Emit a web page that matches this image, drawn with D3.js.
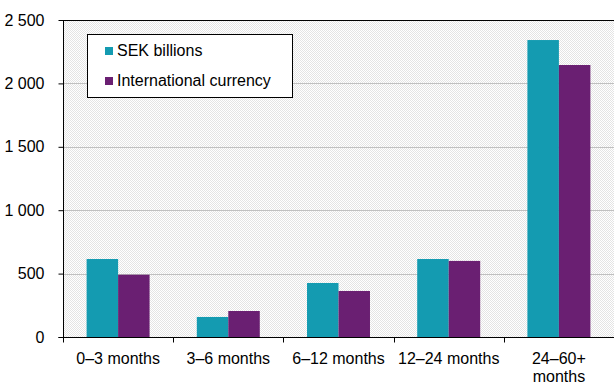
<!DOCTYPE html>
<html><head><meta charset="utf-8">
<script src="https://cdn.jsdelivr.net/npm/d3@7"></script>
<style>body{margin:0;background:#fff}svg{display:block}text{font-family:Arial,"Liberation Sans",sans-serif;fill:#000}</style>
</head><body><svg id="c" width="614" height="391"></svg>
<script>
const categories = ["0–3 months","3–6 months","6–12 months","12–24 months","24–60+ months"];
const seriesNames = ["SEK billions","International currency"];
const sekValues = [615, 158, 426, 615, 2342];
const intlValues = [491, 205, 363, 600, 2145];
const yTicks = [0,500,1000,1500,2000,2500];
const colors = ["#149bb1","#6a1f72"];

const svg = d3.select("#c");
const m = {l:63, r:614, t:20, b:337};
const defs = svg.append("defs");
const pat = defs.append("pattern").attr("id","chk").attr("width",2).attr("height",2).attr("patternUnits","userSpaceOnUse");
pat.append("rect").attr("width",2).attr("height",2).attr("fill","#ffffff");
pat.append("rect").attr("width",1).attr("height",1).attr("fill","#e4e4e4");
pat.append("rect").attr("x",1).attr("y",1).attr("width",1).attr("height",1).attr("fill","#e4e4e4");

const x0 = d3.scaleBand().domain(categories).range([m.l,m.r]).padding(0);
const x1 = d3.scaleBand().domain(seriesNames).range([0,x0.bandwidth()]).paddingInner(0).paddingOuter(0.75);
const y = d3.scaleLinear().domain([0,2500]).range([m.b,m.t]);

svg.append("rect").attr("x",m.l).attr("y",m.t).attr("width",m.r-m.l).attr("height",m.b-m.t).attr("fill","url(#chk)");

// grid
svg.append("g").selectAll("line").data(yTicks.filter(d=>d>0&&d<2500)).join("line")
  .attr("x1",m.l).attr("x2",m.r).attr("y1",d=>Math.round(y(d))+0.5).attr("y2",d=>Math.round(y(d))+0.5)
  .attr("stroke","#c0c0c0").attr("stroke-width",1);
svg.append("line").attr("x1",m.l).attr("x2",m.r).attr("y1",m.t+0.5).attr("y2",m.t+0.5).attr("stroke","#000");

const data = categories.map((c,i)=>({c, vals:[sekValues[i], intlValues[i]]}));
const g = svg.append("g").selectAll("g").data(data).join("g").attr("transform",d=>`translate(${x0(d.c)},0)`);
g.selectAll("rect").data(d=>d.vals.map((v,j)=>({s:seriesNames[j],v,j}))).join("rect")
  .attr("x",d=>x1(d.s)).attr("width",x1.bandwidth())
  .attr("y",d=>y(d.v)).attr("height",d=>y(0)-y(d.v)).attr("fill",d=>colors[d.j]);

// y axis
const ya = svg.append("g").attr("transform",`translate(${m.l+0.5},0)`)
  .call(d3.axisLeft(y).tickValues(yTicks).tickSize(5).tickPadding(14).tickFormat(d=>d3.format(",")(d).replace(/,/g," ")));
ya.select(".domain").attr("d",`M-5,${m.b+0.5}H0V${m.t}`);
ya.selectAll("text").attr("font-size","16px").attr("font-family","Arial, 'Liberation Sans', sans-serif");
ya.selectAll(".tick line").attr("stroke","#000");

// x axis
const xa = svg.append("g").attr("transform",`translate(0,${m.b+0.5})`);
xa.append("line").attr("x1",m.l).attr("x2",m.r).attr("stroke","#000");
xa.selectAll("line.t").data(categories.map(c=>x0(c)).concat([m.r])).join("line").attr("class","t")
  .attr("x1",d=>Math.round(d)+0.5).attr("x2",d=>Math.round(d)+0.5).attr("y1",0).attr("y2",5).attr("stroke","#000");
const lbl = xa.selectAll("text").data(categories).join("text")
  .attr("x",d=>x0(d)+x0.bandwidth()/2).attr("y",26).attr("text-anchor","middle").attr("font-size","16px");
lbl.each(function(d,i){
  const t = d3.select(this);
  if(i===categories.length-1){
    const parts = d.split(" ");
    t.append("tspan").attr("x",x0(d)+x0.bandwidth()/2).attr("dy",0).text(parts[0]);
    t.append("tspan").attr("x",x0(d)+x0.bandwidth()/2).attr("dy",18.5).text(parts[1]);
  } else t.text(d);
});

// legend
const lg = svg.append("g");
lg.append("rect").attr("x",87.5).attr("y",34.5).attr("width",205).attr("height",63).attr("fill","#fff").attr("stroke","#000");
seriesNames.forEach((s,i)=>{
  lg.append("rect").attr("x",105).attr("y",47+i*30).attr("width",8).attr("height",8).attr("fill",colors[i]);
  lg.append("text").attr("x",117).attr("y",56+i*30).attr("font-size","16px").text(s);
});
</script></body></html>
